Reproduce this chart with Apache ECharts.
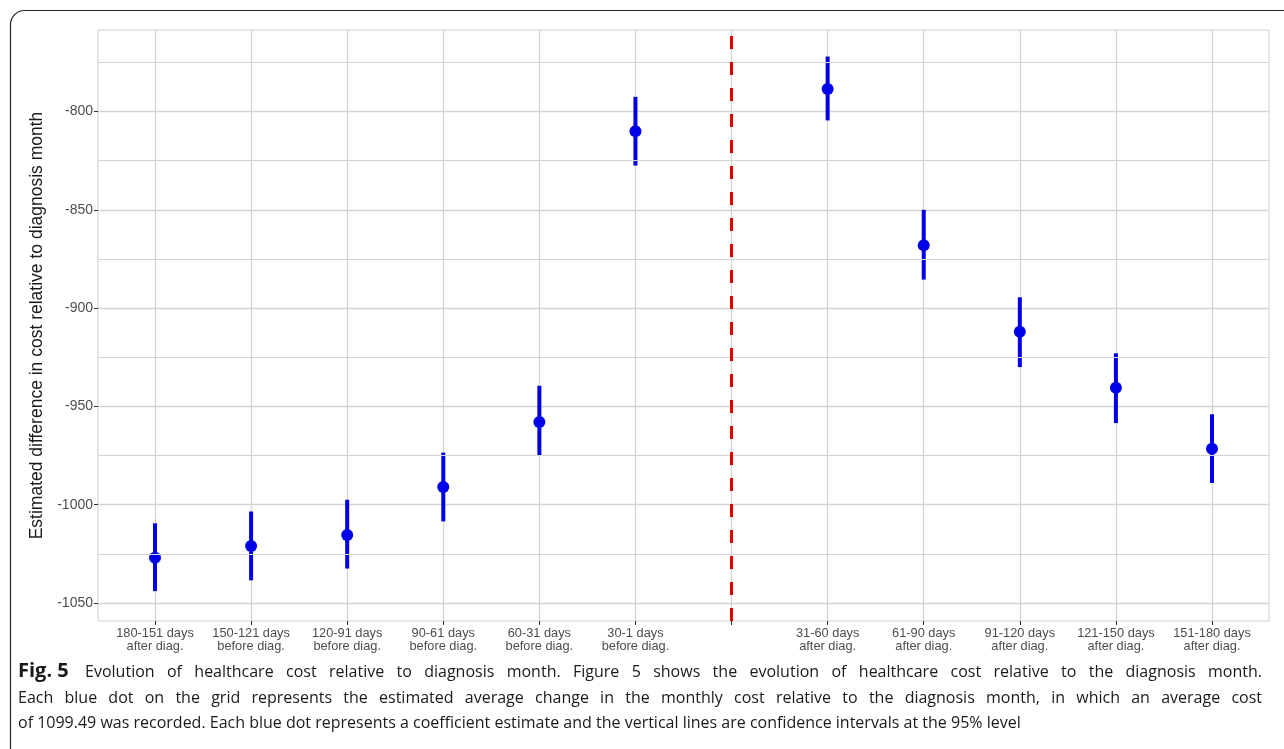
<!DOCTYPE html>
<html>
<head>
<meta charset="utf-8">
<script src="https://cdn.jsdelivr.net/npm/echarts@6/dist/echarts.min.js"></script>
<style>
html,body{margin:0;padding:0;background:#fff;}
#chart{width:1284px;height:749px;}
</style>
</head>
<body>
<div id="chart"></div>
<script>
// ---- data ----
const categories = ['180-151 days\nafter diag.', '150-121 days\nbefore diag.', '120-91 days\nbefore diag.',
  '90-61 days\nbefore diag.', '60-31 days\nbefore diag.', '30-1 days\nbefore diag.', '',
  '31-60 days\nafter diag.', '61-90 days\nafter diag.', '91-120 days\nafter diag.',
  '121-150 days\nafter diag.', '151-180 days\nafter diag.'];
const estimates = [-1027, -1021, -1015.5, -991, -958, -810, null, -788.5, -868, -912, -940.5, -971.5];
const lower = [-1044, -1038.5, -1032.5, -1008.5, -975, -827.5, null, -804.5, -885.5, -930, -958.5, -989];
const upper = [-1009.5, -1003.5, -997.5, -973.5, -939.5, -792.5, null, -772, -850, -894.5, -923, -954];
const diagnosisIndex = 6;
const yTicks = [-1050, -1000, -950, -900, -850, -800];
const yMin = -1059.2, yMax = -758.5;
const yTitle = 'Estimated difference in cost relative to diagnosis month';
const captionLabel = 'Fig. 5';
const captionLines = [
  'Evolution of healthcare cost relative to diagnosis month. Figure 5 shows the evolution of healthcare cost relative to the diagnosis month.',
  'Each blue dot on the grid represents the estimated average change in the monthly cost relative to the diagnosis month, in which an average cost',
  'of 1099.49 was recorded. Each blue dot represents a coefficient estimate and the vertical lines are confidence intervals at the 95% level'
];

const minorTicks = yTicks.map(t => t + 25).concat([yTicks[0] - 25]).filter(v => v > yMin && v < yMax);

const chart = echarts.init(document.getElementById('chart'), null, {renderer: 'canvas'});
const gridColor = '#d4d4d4';
const font = '"Liberation Sans", Arial, sans-serif';
const capFont = '16px "Open Sans", sans-serif';
const capBoldFont = 'bold 20px "Open Sans", sans-serif';
const capColor = '#1a1a1a';

// caption layout (justified lines 1 and 2, like the reference)
const measureCtx = document.createElement('canvas').getContext('2d');
function textW(t, f) { measureCtx.font = f; return measureCtx.measureText(t).width; }
const capLeft = 18, capRight = 1262;
const capTops = [664, 690, 715];
const captionGraphics = [];
captionLines.forEach((line, li) => {
  const words = line.split(' ');
  const items = [];
  if (li === 0) items.push({t: captionLabel, f: capBoldFont, extra: 4});
  words.forEach(w => items.push({t: w, f: capFont, extra: 0}));
  const justify = li < 2;
  const total = items.reduce((s, it) => s + textW(it.t, it.f) + it.extra, 0);
  const spaceW = textW(' ', capFont);
  const gap = justify ? (capRight - capLeft - total) / (items.length - 1) : spaceW;
  let x = capLeft;
  items.forEach(it => {
    const isBold = it.f === capBoldFont;
    captionGraphics.push({type: 'text', x: x, y: capTops[li] + (isBold ? -3 : 0), z: 10, silent: true,
      style: {text: it.t, font: it.f, fill: capColor}});
    x += textW(it.t, it.f) + it.extra + gap;
  });
});

const option = {
  animation: false,
  backgroundColor: '#fff',
  grid: [
    {left: 98, right: 15, top: 30, bottom: 128, show: true, borderColor: '#cfcfcf', borderWidth: 1, backgroundColor: 'transparent'},
    {left: 155, right: 72, top: 30, bottom: 128}
  ],
  xAxis: [
    {type: 'value', gridIndex: 0, show: false, min: 0, max: 1},
    {
      type: 'category', gridIndex: 1, data: categories, boundaryGap: false,
      axisLine: {show: false},
      axisTick: {show: true, length: 4, lineStyle: {color: '#333', width: 1}},
      splitLine: {show: true, lineStyle: {color: gridColor, width: 1.3}},
      axisLabel: {show: true, interval: 0, margin: 6, color: '#4d4d4d', fontSize: 12.8, lineHeight: 13, fontFamily: font}
    }
  ],
  yAxis: [
    {
      type: 'value', gridIndex: 0, min: yMin, max: yMax,
      axisLine: {show: false},
      axisTick: {show: true, length: 4, customValues: yTicks, lineStyle: {color: '#333', width: 1}},
      axisLabel: {show: true, customValues: yTicks, margin: 5, color: '#4d4d4d', fontSize: 14, fontFamily: font,
        formatter: v => String(Math.round(v))},
      splitLine: {show: true, lineStyle: {color: gridColor, width: 1.3}},
      name: yTitle, nameLocation: 'middle', nameGap: 45, nameRotate: 90,
      nameTextStyle: {fontSize: 17.5, color: '#1a1a1a', fontFamily: font}
    },
    {type: 'value', gridIndex: 1, min: yMin, max: yMax, show: false, splitLine: {show: false}}
  ],
  series: [
    {
      type: 'line', xAxisIndex: 0, yAxisIndex: 0, data: [], silent: true,
      markLine: {
        silent: true, symbol: 'none', label: {show: false},
        lineStyle: {color: gridColor, width: 1.1, type: 'solid'},
        data: minorTicks.map(v => ({yAxis: v}))
      }
    },
    {
      type: 'custom', xAxisIndex: 1, yAxisIndex: 1, z: 3,
      data: categories.map((c, i) => [i, lower[i], upper[i]]).filter(d => d[1] != null),
      renderItem: function (params, api) {
        const p1 = api.coord([api.value(0), api.value(1)]);
        const p2 = api.coord([api.value(0), api.value(2)]);
        return {type: 'line', shape: {x1: p1[0], y1: p1[1], x2: p2[0], y2: p2[1]},
          style: {stroke: '#0000e8', lineWidth: 4}};
      },
      markLine: {
        silent: true, symbol: 'none', label: {show: false},
        lineStyle: {color: '#e00000', width: 3, type: [13, 13]},
        data: [{xAxis: diagnosisIndex}]
      }
    },
    {
      type: 'scatter', xAxisIndex: 1, yAxisIndex: 1, z: 4,
      data: estimates.map((v, i) => [i, v]).filter(d => d[1] != null),
      symbol: 'circle', symbolSize: 12,
      itemStyle: {color: '#0000e8', opacity: 1}
    }
  ],
  graphic: [
    {type: 'rect', shape: {x: 10.5, y: 10.5, width: 1320, height: 780, r: 14},
      style: {fill: 'none', stroke: '#222', lineWidth: 1.2}, silent: true, z: 10}
  ].concat(captionGraphics)
};
chart.setOption(option);
</script>
</body>
</html>
